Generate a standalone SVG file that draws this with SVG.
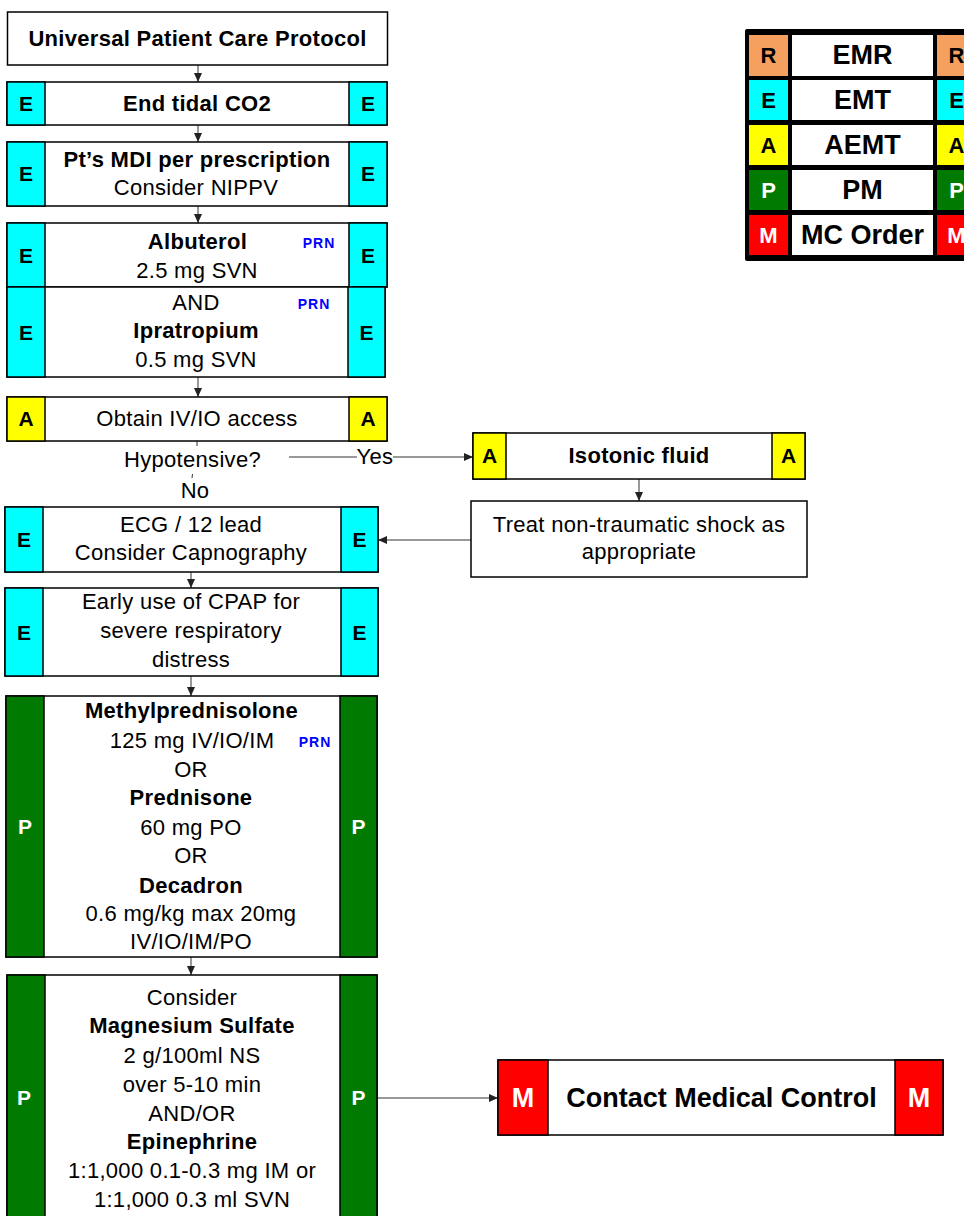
<svg xmlns="http://www.w3.org/2000/svg" width="964" height="1216" viewBox="0 0 964 1216">
<defs>
<style>
.box{fill:#fff;stroke:#000;stroke-width:1.5}
.cy{fill:#00FFFF;stroke:#000;stroke-width:1.5}
.ye{fill:#FFFF00;stroke:#000;stroke-width:1.5}
.gr{fill:#007A00;stroke:#000;stroke-width:1.5}
.rd{fill:#FF0000;stroke:#000;stroke-width:1.5}
.lc{stroke:none}
.t{font-family:"Liberation Sans",Arial,sans-serif;font-size:22px;letter-spacing:0.3px;text-anchor:middle;fill:#000}
.b{font-weight:bold}
.prn{font-family:"Liberation Sans",Arial,sans-serif;font-size:14px;font-weight:bold;fill:#0000FF;letter-spacing:1px;text-anchor:middle}
.lg{font-family:"Liberation Sans",Arial,sans-serif;font-size:27px;font-weight:bold;text-anchor:middle;fill:#000}
.ll{font-family:"Liberation Sans",Arial,sans-serif;font-size:21px;font-weight:bold;text-anchor:middle;fill:#000}
.lk{font-family:"Liberation Sans",Arial,sans-serif;font-size:22px;font-weight:bold;text-anchor:middle;fill:#000}
.ll.w,.lg.w,.lk.w{fill:#fff}
.c{stroke:#333;stroke-width:1;fill:none}
.a{marker-end:url(#ah)}
</style>
<marker id="ah" markerUnits="userSpaceOnUse" markerWidth="9" markerHeight="8" refX="9" refY="4" orient="auto">
<path d="M0,0 L9,4 L0,8 z" fill="#222"/>
</marker>
</defs>
<rect width="964" height="1216" fill="#fff"/>

<g id="connectors">
<line class="c a" x1="198" y1="65" x2="198" y2="82"/>
<line class="c a" x1="198" y1="125" x2="198" y2="142"/>
<line class="c a" x1="198" y1="206" x2="198" y2="223"/>
<line class="c a" x1="198" y1="377" x2="198" y2="397"/>
<line class="c" x1="197" y1="441" x2="197" y2="446"/>
<line class="c" x1="192.5" y1="474" x2="192" y2="478"/>
<line class="c" x1="289" y1="457" x2="357" y2="457"/>
<line class="c a" x1="393" y1="457" x2="473" y2="457"/>
<line class="c a" x1="639" y1="479" x2="639" y2="501"/>
<line class="c a" x1="471" y1="540" x2="378" y2="540"/>
<line class="c a" x1="191" y1="572" x2="191" y2="588"/>
<line class="c a" x1="191" y1="676" x2="191" y2="696"/>
<line class="c a" x1="191" y1="957" x2="191" y2="975"/>
<line class="c a" x1="377" y1="1098" x2="498" y2="1098"/>
<text class="t" x="192.5" y="467">Hypotensive?</text>
<text class="t" x="375" y="464">Yes</text>
<text class="t" x="195" y="498">No</text>
</g>

<g id="n-upcp">
<rect class="box" x="7.5" y="12" width="380" height="53"/>
<text class="t b" x="197.5" y="46">Universal Patient Care Protocol</text>
</g>

<g id="n-etco2">
<rect class="box" x="7" y="82" width="380" height="43"/>
<rect class="cy" x="7" y="82" width="38" height="43"/>
<rect class="cy" x="349" y="82" width="38" height="43"/>
<text class="t b" x="197" y="111">End tidal CO2</text>
<text class="ll" x="26" y="111">E</text>
<text class="ll" x="368" y="111">E</text>
</g>

<g id="n-mdi">
<rect class="box" x="7" y="142" width="380" height="64"/>
<rect class="cy" x="7" y="142" width="38" height="64"/>
<rect class="cy" x="349" y="142" width="38" height="64"/>
<text class="t b" x="197" y="167">Pt’s MDI per prescription</text>
<text class="t" x="196" y="195">Consider NIPPV</text>
<text class="ll" x="26" y="181">E</text>
<text class="ll" x="368" y="181">E</text>
</g>

<g id="n-albuterol">
<rect class="box" x="7" y="223" width="380" height="64"/>
<rect class="cy" x="7" y="223" width="38" height="64"/>
<rect class="cy" x="349" y="223" width="38" height="64"/>
<text class="t b" x="197.5" y="249">Albuterol</text>
<text class="t" x="197" y="278">2.5 mg SVN</text>
<text class="prn" x="319" y="248">PRN</text>
<text class="ll" x="26" y="263">E</text>
<text class="ll" x="368" y="263">E</text>
</g>

<g id="n-ipratropium">
<rect class="box" x="7" y="287" width="378" height="90"/>
<rect class="cy" x="7" y="287" width="38" height="90"/>
<rect class="cy" x="348" y="287" width="37" height="90"/>
<text class="t" x="196" y="310">AND</text>
<text class="t b" x="196" y="338">Ipratropium</text>
<text class="t" x="196" y="367">0.5 mg SVN</text>
<text class="prn" x="314" y="309">PRN</text>
<text class="ll" x="26" y="340">E</text>
<text class="ll" x="366.5" y="340">E</text>
</g>

<g id="n-ivio">
<rect class="box" x="7" y="397" width="380" height="44"/>
<rect class="ye" x="7" y="397" width="38" height="44"/>
<rect class="ye" x="349" y="397" width="38" height="44"/>
<text class="t" x="197" y="426">Obtain IV/IO access</text>
<text class="ll" x="26" y="426">A</text>
<text class="ll" x="368" y="426">A</text>
</g>

<g id="n-isotonic">
<rect class="box" x="473" y="433" width="332" height="46"/>
<rect class="ye" x="473" y="433" width="33" height="46"/>
<rect class="ye" x="772" y="433" width="33" height="46"/>
<text class="t b" x="639" y="463">Isotonic fluid</text>
<text class="ll" x="489.5" y="463">A</text>
<text class="ll" x="788.5" y="463">A</text>
</g>

<g id="n-shock">
<rect class="box" x="471" y="501" width="336" height="76"/>
<text class="t" x="639" y="532">Treat non-traumatic shock as</text>
<text class="t" x="639" y="559">appropriate</text>
</g>

<g id="n-ecg">
<rect class="box" x="5" y="507" width="373" height="65"/>
<rect class="cy" x="5" y="507" width="38" height="65"/>
<rect class="cy" x="341" y="507" width="37" height="65"/>
<text class="t" x="191" y="532">ECG / 12 lead</text>
<text class="t" x="191" y="560">Consider Capnography</text>
<text class="ll" x="24" y="547">E</text>
<text class="ll" x="359.5" y="547">E</text>
</g>

<g id="n-cpap">
<rect class="box" x="5" y="588" width="373" height="88"/>
<rect class="cy" x="5" y="588" width="38" height="88"/>
<rect class="cy" x="341" y="588" width="37" height="88"/>
<text class="t" x="191" y="609">Early use of CPAP for</text>
<text class="t" x="191" y="638">severe respiratory</text>
<text class="t" x="191" y="667">distress</text>
<text class="ll" x="24" y="640">E</text>
<text class="ll" x="359.5" y="640">E</text>
</g>

<g id="n-steroids">
<rect class="box" x="6" y="696" width="371" height="261"/>
<rect class="gr" x="6" y="696" width="38" height="261"/>
<rect class="gr" x="340" y="696" width="37" height="261"/>
<text class="t b" x="191.5" y="718">Methylprednisolone</text>
<text class="t" x="192" y="748">125 mg IV/IO/IM</text>
<text class="prn" x="315" y="747">PRN</text>
<text class="t" x="191" y="777">OR</text>
<text class="t b" x="191" y="805">Prednisone</text>
<text class="t" x="191" y="835">60 mg PO</text>
<text class="t" x="191" y="863">OR</text>
<text class="t b" x="191" y="893">Decadron</text>
<text class="t" x="191" y="921">0.6 mg/kg max 20mg</text>
<text class="t" x="191" y="949">IV/IO/IM/PO</text>
<text class="ll w" x="25" y="834">P</text>
<text class="ll w" x="358.5" y="834">P</text>
</g>

<g id="n-magnesium">
<rect class="box" x="7" y="975" width="370" height="262"/>
<rect class="gr" x="7" y="975" width="38" height="262"/>
<rect class="gr" x="340" y="975" width="37" height="262"/>
<text class="t" x="192" y="1005">Consider</text>
<text class="t b" x="192" y="1033">Magnesium Sulfate</text>
<text class="t" x="192" y="1063">2 g/100ml NS</text>
<text class="t" x="192" y="1092">over 5-10 min</text>
<text class="t" x="192" y="1121">AND/OR</text>
<text class="t b" x="192" y="1149">Epinephrine</text>
<text class="t" x="192" y="1178">1:1,000 0.1-0.3 mg IM or</text>
<text class="t" x="192" y="1207">1:1,000 0.3 ml SVN</text>
<text class="ll w" x="24" y="1105">P</text>
<text class="ll w" x="358.5" y="1105">P</text>
</g>

<g id="n-medcontrol">
<rect class="box" x="498" y="1060" width="445" height="75"/>
<rect class="rd" x="498" y="1060" width="50" height="75"/>
<rect class="rd" x="895" y="1060" width="48" height="75"/>
<text class="lg" x="721.5" y="1107">Contact Medical Control</text>
<text class="lg w" x="523" y="1107">M</text>
<text class="lg w" x="919" y="1107">M</text>
</g>

<g id="legend">
<rect x="745" y="29" width="240" height="232" rx="2" fill="#000"/>
<rect class="lc" x="749" y="35" width="39" height="41" fill="#F5A05F"/>
<rect class="lc" x="792" y="35" width="141" height="41" fill="#fff"/>
<rect class="lc" x="937" y="35" width="39" height="41" fill="#F5A05F"/>
<rect class="lc" x="749" y="80" width="39" height="40" fill="#00FFFF"/>
<rect class="lc" x="792" y="80" width="141" height="40" fill="#fff"/>
<rect class="lc" x="937" y="80" width="39" height="40" fill="#00FFFF"/>
<rect class="lc" x="749" y="125" width="39" height="40" fill="#FFFF00"/>
<rect class="lc" x="792" y="125" width="141" height="40" fill="#fff"/>
<rect class="lc" x="937" y="125" width="39" height="40" fill="#FFFF00"/>
<rect class="lc" x="749" y="170" width="39" height="40" fill="#007A00"/>
<rect class="lc" x="792" y="170" width="141" height="40" fill="#fff"/>
<rect class="lc" x="937" y="170" width="39" height="40" fill="#007A00"/>
<rect class="lc" x="749" y="215" width="39" height="40" fill="#FF0000"/>
<rect class="lc" x="792" y="215" width="141" height="40" fill="#fff"/>
<rect class="lc" x="937" y="215" width="39" height="40" fill="#FF0000"/>
<text class="lk" x="768.5" y="63">R</text>
<text class="lg" x="862.5" y="64">EMR</text>
<text class="lk" x="956.5" y="63">R</text>
<text class="lk" x="768.5" y="108">E</text>
<text class="lg" x="862.5" y="109">EMT</text>
<text class="lk" x="956.5" y="108">E</text>
<text class="lk" x="768.5" y="153">A</text>
<text class="lg" x="862.5" y="154">AEMT</text>
<text class="lk" x="956.5" y="153">A</text>
<text class="lk w" x="768.5" y="198">P</text>
<text class="lg" x="862.5" y="199">PM</text>
<text class="lk w" x="956.5" y="198">P</text>
<text class="lk w" x="768.5" y="243">M</text>
<text class="lg" x="862.5" y="244">MC Order</text>
<text class="lk w" x="956.5" y="243">M</text>
</g>
</svg>
